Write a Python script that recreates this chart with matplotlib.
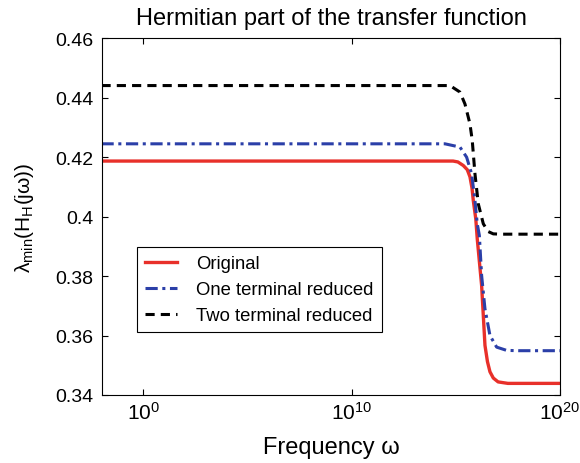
import numpy as np
import matplotlib
matplotlib.use("Agg")
import matplotlib.pyplot as plt

plt.rcParams['font.family'] = ['Liberation Sans', 'DejaVu Sans']
plt.rcParams['mathtext.fontset'] = 'custom'
plt.rcParams['mathtext.rm'] = 'Liberation Sans'
plt.rcParams['mathtext.it'] = 'Liberation Sans:italic'

title = "Hermitian part of the transfer function"
labels = ["Original", "One terminal reduced", "Two terminal reduced"]

# log10 of frequency and read values
orig_logw = [-2, 5, 10, 14.87, 15.1, 15.36, 15.55, 15.68, 15.78, 15.84, 15.96, 16.03, 16.24, 16.40, 16.52, 16.64, 16.8, 17.03, 17.5, 20]
orig_val = [0.4187, 0.4187, 0.4187, 0.4187, 0.4184, 0.4172, 0.4158, 0.4134, 0.4095, 0.4054, 0.3992, 0.3925, 0.3768, 0.3567, 0.3512, 0.3478, 0.3457, 0.3444, 0.3439, 0.3439]

one_logw = [-2, 5, 10, 14.48, 15.20, 15.52, 15.76, 15.92, 16.03, 16.13, 16.24, 16.40, 16.64, 16.96, 17.44, 18, 20]
one_val = [0.4245, 0.4245, 0.4245, 0.4245, 0.4234, 0.4200, 0.4144, 0.4054, 0.3976, 0.3937, 0.3802, 0.3690, 0.3600, 0.3561, 0.3550, 0.3549, 0.3549]

two_logw = [-2, 5, 10, 14.72, 15.20, 15.44, 15.68, 15.79, 15.92, 16.08, 16.32, 16.55, 16.80, 17.2, 20]
two_val = [0.4441, 0.4441, 0.4441, 0.4441, 0.4419, 0.4379, 0.4312, 0.4256, 0.4144, 0.4043, 0.3976, 0.3950, 0.3942, 0.3941, 0.3941]

yticks = [0.34, 0.36, 0.38, 0.40, 0.42, 0.44, 0.46]
ytick_labels = ['0.34', '0.36', '0.38', '0.4', '0.42', '0.44', '0.46']

fig = plt.figure(figsize=(5.8, 4.64), dpi=100)
ax = fig.add_axes([0.175, 0.1466, 0.7905, 0.7687])

ax.plot(10.0 ** np.array(orig_logw), orig_val, color='#e8302a', lw=2.4, ls='-', label=labels[0])
ax.plot(10.0 ** np.array(one_logw), one_val, color='#2b3fa8', lw=2.2, ls=(0, (4, 1.5, 1, 1.5)), label=labels[1])
ax.plot(10.0 ** np.array(two_logw), two_val, color='black', lw=2.2, ls=(0, (3, 2)), label=labels[2])

ax.set_xscale('log')
ax.set_xlim(1e-2, 1e20)
ax.set_ylim(0.34, 0.46)
ax.set_xticks([1e0, 1e10, 1e20])
ax.minorticks_off()
ax.set_yticks(yticks)
ax.set_yticklabels(ytick_labels)
ax.tick_params(direction='in', top=True, right=True, length=4, width=0.8)
ax.tick_params(axis='y', labelsize=14, pad=6)
ax.tick_params(axis='x', labelsize=15, pad=4)

fig.text(331 / 580, 1 - 19 / 464, title, fontsize=17, ha='center', va='center')
ax.set_xlabel('Frequency ω', fontsize=17)
ax.xaxis.set_label_coords((331 - 101.7) / 458.3, (396 - 448) / 356.7)
ax.xaxis.label.set_va('center')
ax.set_ylabel(r'$\mathrm{λ}_{\mathrm{min}}(\mathrm{H}_{\mathrm{H}}(\mathrm{jω}))$', fontsize=15)
ax.yaxis.set_label_coords((25 - 101.7) / 458.3, 0.5)
ax.yaxis.label.set_va('center')

leg = ax.legend(loc='upper left', bbox_to_anchor=(0.077, 0.415), fontsize=13.3,
                frameon=True, fancybox=False, edgecolor='black', framealpha=1,
                handlelength=1.75, borderpad=0.45, labelspacing=0.48, handletextpad=1.0,
                borderaxespad=0)
leg.get_frame().set_linewidth(0.8)

fig.savefig('out.png', dpi=100)
